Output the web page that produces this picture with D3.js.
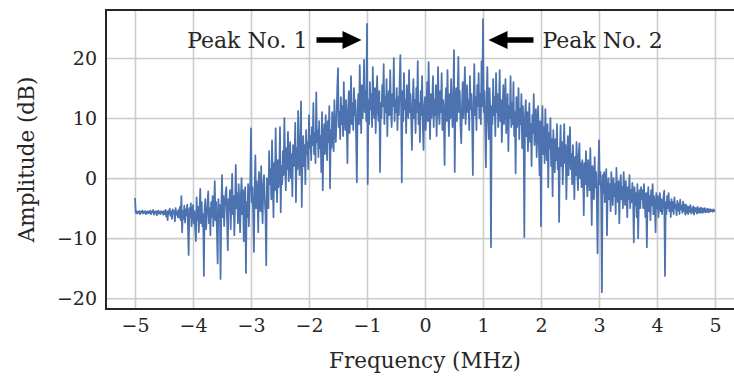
<!DOCTYPE html>
<html lang="en">
<head>
  <meta charset="UTF-8">
  <title>Spectrum</title>
  <script src="https://d3js.org/d3.v7.min.js"></script>
  <style type="text/css">
    body { margin: 0; background: #fff; }
    svg text { font-family: "DejaVu Serif", serif; fill: #262626; }
    .grid line { stroke: #cccccc; stroke-width: 1.6; }
    .grid .domain { display: none; }
    .line { fill: none; stroke: #4c72b0; stroke-width: 1.75; stroke-linejoin: round; }
    .frame { fill: none; stroke: #262626; stroke-width: 2; }
  </style>
</head>
<body>
<script>

  // frequency axis of the trace: start + i * step (MHz)
  var freqStart = -5, freqStep = 0.0125;

  // amplitude in dB, 20 samples per row (0.25 MHz)
  var amplitude = [
    -3.3, -5.8, -5.5, -5.9, -5.6, -5.8, -5.5, -6.0, -5.6, -5.7, -5.4, -5.9, -5.6, -5.8, -5.5, -6.0, -5.7, -5.5, -5.9, -5.6,
    -5.8, -5.4, -6.0, -5.6, -5.7, -5.3, -6.1, -5.6, -5.8, -5.5, -6.2, -5.7, -5.4, -5.9, -5.6, -6.0, -5.5, -5.8, -5.6, -6.1,
    -5.5, -6.0, -5.3, -6.4, -5.6, -7.0, -5.4, -5.9, -5.1, -6.3, -5.6, -6.8, -5.2, -5.8, -5.5, -7.2, -5.0, -6.1, -5.6, -6.5,
    -5.3, -6.6, -4.8, -7.0, -3.0, -9.0, -5.5, -6.8, -4.6, -7.4, -5.2, -6.2, -4.4, -7.8, -12.8, -5.0, -6.5, -4.2, -8.0, -5.6,
    -4.5, -7.5, -5.5, -8.5, -10.5, -3.2, -7.0, -4.8, -9.0, -5.5, -1.8, -7.5, -4.0, -8.0, -6.0, -16.3, -5.0, -3.5, -8.5, -6.5,
    -4.5, -2.2, -7.5, -5.0, -9.5, -4.0, -6.5, -3.0, -8.0, -5.5, -0.5, -7.0, -4.0, -9.0, -14.2, -3.5, -6.0, -4.5, -16.8, -5.5,
    0.5, -6.5, -3.0, -8.0, -4.5, -2.5, -1.5, -7.0, -12.0, -3.5, -5.5, -2.0, -8.5, -4.0, 0.7, -6.0, -3.0, -9.5, -4.5, 2.2,
    -5.0, -2.5, -7.5, -1.0, -4.5, -9.0, -3.0, 0.0, -6.0, -2.0, -10.5, -3.5, -1.5, -15.8, -4.0, -6.5, -1.0, -8.0, -3.0, -0.5,
    8.3, -4.0, -1.5, -6.0, -12.3, -2.0, 3.8, -5.0, -0.5, -3.0, -9.0, 1.0, -2.5, -5.5, 2.0, -4.0, -7.5, -1.0, 0.5, -3.5,
    -6.0, -14.5, 0.0, -2.5, -5.0, 4.5, -1.0, 1.5, -3.5, 6.3, -0.5, -6.5, 2.5, -2.0, 8.3, 0.0, -4.0, 3.0, -1.5, 1.0,
    8.5, -5.7, 2.0, -1.0, 4.5, 0.5, 10.0, 3.0, -2.0, 5.0, 1.5, 7.7, -0.5, 3.5, 6.0, 0.0, 4.0, -3.0, 5.5, 2.0,
    3.0, 9.2, -4.0, 5.0, 1.5, 11.2, 4.0, 0.5, 6.5, 12.8, -4.8, 3.5, 7.0, 2.0, 5.5, -1.0, 8.0, 4.0, 6.0, 1.5,
    10.5, 5.0, 7.0, 3.0, 8.5, 5.5, 12.5, 4.0, 7.5, 2.5, 14.3, 6.0, 8.0, 3.5, 9.5, 5.0, 7.0, 1.0, 11.0, -2.0,
    6.5, 9.0, 4.0, 10.5, 7.0, 3.0, 9.5, 6.0, 12.0, -1.7, 8.0, 5.0, 11.0, 7.5, 4.5, 13.0, 8.0, 6.0, 10.0, 15.0,
    18.3, 8.5, 11.0, 6.5, 13.5, 9.0, 12.0, 7.0, 16.0, 10.0, 8.0, 13.0, 9.5, 2.5, 11.5, 14.5, 7.5, 10.5, 17.0, 9.0,
    12.5, 8.0, 15.0, 10.5, 13.0, 6.5, -0.7, 11.0, 14.0, 9.0, 18.8, 12.0, 7.5, 15.5, 10.0, 13.0, 19.7, 11.0, 14.5, 9.5,
    25.7, -1.0, 13.0, 9.0, 16.0, 11.5, 14.0, 8.5, 18.5, 12.0, 10.0, 15.0, 7.5, 13.5, 17.0, 11.0, 9.5, 14.5, 1.0, 12.5,
    10.0, 15.5, 12.0, 19.0, 9.0, 13.5, 11.0, 16.5, 7.0, 12.5, 14.5, 10.5, 18.0, 11.5, 8.5, 14.0, 12.0, 20.0, 9.5, 13.0,
    11.0, 15.0, 8.0, 13.5, 10.5, 16.0, 20.5, 12.0, -0.7, 14.5, 9.5, 17.5, 11.5, 13.0, 7.5, 15.5, 12.0, 10.0, 18.0, 11.0,
    14.0, 9.5, 4.7, 12.5, 16.5, 10.0, 13.0, 7.5, 15.0, 11.0, 19.5, 9.0, 12.5, 6.0, 14.5, 10.5, 17.0, 8.5, 4.7, 12.0,
    13.5, 8.0, 11.5, 16.0, 9.5, 19.3, 12.0, 6.5, 14.0, 10.0, 12.5, 17.0, 8.5, 13.0, 10.5, 15.5, 7.0, 12.0, 18.5, 11.0,
    9.0, 14.5, 11.0, 17.5, 8.0, 13.0, 10.5, 2.2, 12.5, 15.0, 9.5, 18.0, 11.5, 7.0, 14.0, 10.0, 16.5, 12.0, 8.5, 13.5,
    21.3, 1.0, 12.5, 15.0, 9.5, 13.0, 20.2, 11.0, 14.5, 8.5, 5.8, 12.0, 16.0, 10.0, 13.5, 18.5, 9.0, 12.0, 15.5, 11.0,
    13.0, 8.0, 17.0, 11.5, 14.0, 9.5, 0.5, 12.5, 19.0, 10.5, 13.5, 8.0, 15.5, 12.0, 17.5, 10.0, 14.0, 9.0, 19.5, 12.0,
    26.5, 11.0, 14.5, 8.5, 1.8, 13.0, 18.5, 10.0, 6.5, 15.0, 11.5, -11.5, 12.0, 9.0, 16.5, 10.5, 13.5, 7.0, 17.5, 11.0,
    14.0, 8.5, 12.0, 18.0, 9.5, 13.0, 6.0, 11.5, 15.5, 9.0, 12.5, 16.5, 7.5, 11.0, 14.0, 4.5, 12.0, 10.0, 17.0, 8.5,
    12.5, 9.0, 16.0, 7.0, 11.0, 0.8, 13.5, 8.5, 10.5, 15.0, 6.5, 11.5, 9.0, 14.0, 5.0, 12.0, 8.0, -9.8, 10.5, 13.0,
    7.0, 11.0, 4.5, 9.5, 12.5, 6.0, 9.0, 2.0, 10.5, 7.5, 14.0, 5.5, 9.0, 11.5, 3.5, 8.0, 12.0, 6.0, 0.5, 9.5,
    -8.0, 7.0, 12.0, 4.0, 8.5, 2.5, 11.5, 6.0, 3.0, 9.0, -1.5, 7.5, 5.0, 10.0, 2.0, 6.5, -3.0, 8.0, 4.5, 1.0,
    6.5, 3.0, 9.0, 1.5, 5.0, -7.3, 4.0, 8.8, 2.0, 6.0, -1.0, 4.5, 9.0, 2.5, 5.5, -3.5, 3.0, 7.0, 0.5, 4.5,
    8.5, 1.5, 4.0, -1.0, 5.5, 2.0, -3.5, 3.5, 0.5, 6.0, 1.0, -2.0, 4.0, 5.8, 0.0, 2.5, -1.5, 3.0, 1.0, -6.2,
    2.5, -1.0, 4.5, 0.0, -3.0, 3.0, 1.0, -2.0, 5.0, -0.5, -7.8, 2.0, 0.5, -3.5, 3.5, -1.5, 1.0, -4.0, -12.5, 0.0,
    6.3, -1.0, 1.0, -3.0, -19.0, 0.5, -2.5, 1.0, -4.0, -1.0, 1.5, -9.5, -2.0, 0.0, -3.5, -1.0, -5.5, 1.0, -2.5, -4.5,
    0.0, -3.0, -1.0, -6.0, 1.7, -2.5, -4.0, -0.5, -7.5, -2.0, 0.5, -3.5, -1.5, -5.0, 1.0, -2.5, -4.5, -0.5, -3.0, -6.5,
    -1.5, -3.5, 0.5, -5.0, -2.0, -4.0, -0.8, -3.0, -10.7, -1.5, -4.5, -2.5, -6.5, -1.0, -10.0, -3.5, -2.0, -5.0, -1.5, -3.5,
    -2.0, -5.0, -1.0, -4.0, -6.5, -2.5, -11.5, -3.5, -1.5, -5.5, -3.0, -7.0, -2.0, -4.5, -1.0, -6.0, -3.0, -4.5, -9.0, -2.5,
    -5.0, -3.0, -6.5, -4.0, -2.5, -5.5, -3.5, -6.0, -4.5, -3.0, -2.1, -16.3, -4.0, -6.0, -3.0, -5.0, -2.5, -5.5, -4.0, -6.5,
    -3.5, -5.5, -4.0, -6.0, -3.2, -5.0, -4.5, -6.2, -3.8, -5.4, -4.2, -6.0, -3.6, -5.2, -4.6, -5.8, -3.9, -5.5, -4.4, -6.1,
    -4.4, -5.8, -4.7, -6.0, -4.8, -5.6, -4.5, -5.9, -5.0, -5.7, -4.7, -6.1, -4.9, -5.6, -5.0, -5.9, -4.8, -5.7, -5.1, -5.8,
    -4.9, -5.7, -5.0, -5.8, -5.1, -5.6, -5.0, -5.7, -5.2, -5.6, -5.1, -5.7, -5.2, -5.6, -5.2, -5.5, -5.3, -5.6, -5.2, -5.5,
    -5.4
  ];

  var xTicks = [-5, -4, -3, -2, -1, 0, 1, 2, 3, 4, 5];
  var yTicks = [-20, -10, 0, 10, 20];

  // annotated peaks: frequency (MHz), label; arrows drawn at arrowLevel dB
  var peakFreqs = [-1, 1];
  var peakLabels = ["Peak No. 1", "Peak No. 2"];
  var arrowLevel = 23;

  var xDomain = [-5.5, 5.5], yDomain = [-21.8, 28];

  var margin = {top: 10, left: 106},
      plotW = 638, plotH = 299;

  var svg = d3.select("body").append("svg")
    .attr("width", 734)
    .attr("height", 376);

  var g = svg.append("g")
    .attr("transform", "translate(" + margin.left + "," + margin.top + ")");

  var xScale = d3.scaleLinear().domain(xDomain).range([0, plotW]);
  var yScale = d3.scaleLinear().domain(yDomain).range([plotH, 0]);

  // grid + tick labels
  g.append("g")
    .attr("class", "grid x")
    .attr("transform", "translate(0," + plotH + ")")
    .call(d3.axisBottom(xScale).tickValues(xTicks).tickSizeInner(-plotH).tickSizeOuter(0).tickPadding(10))
    .call(function(s) {
      s.selectAll("text").attr("font-size", "19px").attr("font-family", null);
    });

  g.append("g")
    .attr("class", "grid y")
    .call(d3.axisLeft(yScale).tickValues(yTicks).tickSizeInner(-plotW).tickSizeOuter(0).tickPadding(9))
    .call(function(s) {
      s.selectAll("text").attr("font-size", "19px").attr("font-family", null);
    });

  // the trace
  var line = d3.line()
    .x(function(d, i) { return xScale(freqStart + i * freqStep); })
    .y(function(d) { return yScale(d); });

  g.append("path")
    .datum(amplitude)
    .attr("class", "line")
    .attr("d", line);

  // frame
  g.append("rect")
    .attr("class", "frame")
    .attr("width", plotW)
    .attr("height", plotH);

  // axis labels
  svg.append("text")
    .attr("text-anchor", "middle")
    .attr("x", margin.left + plotW / 2)
    .attr("y", 368)
    .attr("font-size", "21.5px")
    .text("Frequency (MHz)");

  svg.append("text")
    .attr("text-anchor", "middle")
    .attr("transform", "translate(34," + (margin.top + plotH / 2) + ") rotate(-90)")
    .attr("font-size", "21.5px")
    .text("Amplitude (dB)");

  // peak annotations
  var arrowPath = "M0,0 L-19,-9 L-19,-2.7 L-45,-2.7 L-45,2.7 L-19,2.7 L-19,9 Z";
  peakFreqs.forEach(function(f, k) {
    var dir = f < 0 ? 1 : -1;  // arrow points right for the left peak
    var tipX = xScale(f) - dir * 5.5;
    var ay = yScale(arrowLevel);
    g.append("path")
      .attr("d", arrowPath)
      .attr("fill", "black")
      .attr("transform", "translate(" + tipX + "," + ay + ") scale(" + dir + ",1)");
    g.append("text")
      .attr("x", tipX - dir * 54)
      .attr("y", ay + 7.5)
      .attr("text-anchor", dir > 0 ? "end" : "start")
      .attr("font-size", "22px")
      .text(peakLabels[k]);
  });

</script>
</body>
</html>
